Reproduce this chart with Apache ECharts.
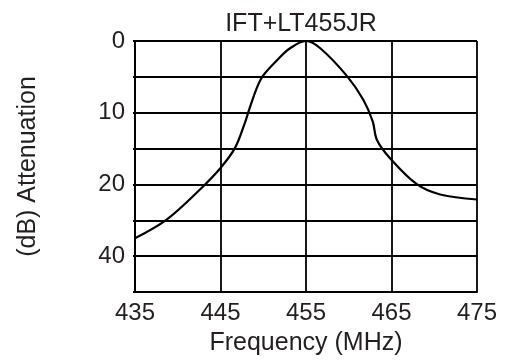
<!DOCTYPE html>
<html>
<head>
<meta charset="utf-8">
<script src="https://cdn.jsdelivr.net/npm/echarts@6/dist/echarts.min.js"></script>
<style>html,body{margin:0;padding:0;background:#fff;}#c{width:507px;height:361px;}</style>
</head>
<body>
<div id="c"></div>
<script>
// Frequency (MHz) and attenuation (in axis position units: 5 per grid row)
var freq = [435, 438.7, 442.6, 445, 446.7, 447.8, 448.4, 449.3, 450.0, 451.6, 453.1, 455, 456.7, 459.8, 461.7, 462.8, 463.3, 464.8, 468.0, 470.7, 475];
var atten = [27.5, 24.9, 20.7, 17.7, 14.9, 11.6, 9.4, 6.4, 4.8, 2.7, 1.05, 0, 1.05, 4.9, 8.2, 11.2, 13.8, 16.3, 20.0, 21.4, 22.1];
var xTicks = [435, 445, 455, 465, 475];
var yTickLabels = {0: '0', 10: '10', 20: '20', 30: '40'};
var title = 'IFT+LT455JR';
var xName = 'Frequency (MHz)';
var yName = '(dB) Attenuation';

var pts = freq.map(function (f, i) { return [f, atten[i]]; });
var txt = '#231f20';
var font = 'Liberation Sans';
var chart = echarts.init(document.getElementById('c'), null, {renderer: 'canvas'});
chart.setOption({
  animation: false,
  title: {text: title, left: 296, top: 7, textAlign: 'center',
    textStyle: {fontFamily: font, fontSize: 25, fontWeight: 'normal', color: txt}},
  grid: {left: 135, right: 30, top: 41, bottom: 68, containLabel: false},
  xAxis: {
    type: 'value', min: 435, max: 475, interval: 5,
    name: xName, nameLocation: 'middle', nameGap: 39,
    nameTextStyle: {fontFamily: font, fontSize: 25, color: txt},
    axisLine: {show: true, onZero: false, lineStyle: {color: '#000', width: 2}},
    axisTick: {show: false, customValues: xTicks},
    axisLabel: {customValues: xTicks, fontFamily: font, fontSize: 24, color: txt, margin: 9},
    splitLine: {show: true, lineStyle: {color: '#000', width: 1.8}}
  },
  yAxis: {
    type: 'value', min: 0, max: 35, interval: 5, inverse: true,
    name: yName, nameLocation: 'middle', nameGap: 94, nameRotate: 90,
    nameTextStyle: {fontFamily: font, fontSize: 25, color: txt},
    axisLine: {show: true, lineStyle: {color: '#000', width: 2}},
    axisTick: {show: true, length: 2, lineStyle: {color: '#000', width: 1.8}},
    axisLabel: {fontFamily: font, fontSize: 24, color: txt, margin: 10,
      formatter: function (v) { return yTickLabels[v] !== undefined ? yTickLabels[v] : ''; }},
    splitLine: {show: true, lineStyle: {color: '#000', width: 1.8}}
  },
  series: [{
    type: 'line', data: pts, smooth: 0.35, showSymbol: false,
    lineStyle: {color: '#000', width: 2.2}
  }]
});
</script>
</body>
</html>
